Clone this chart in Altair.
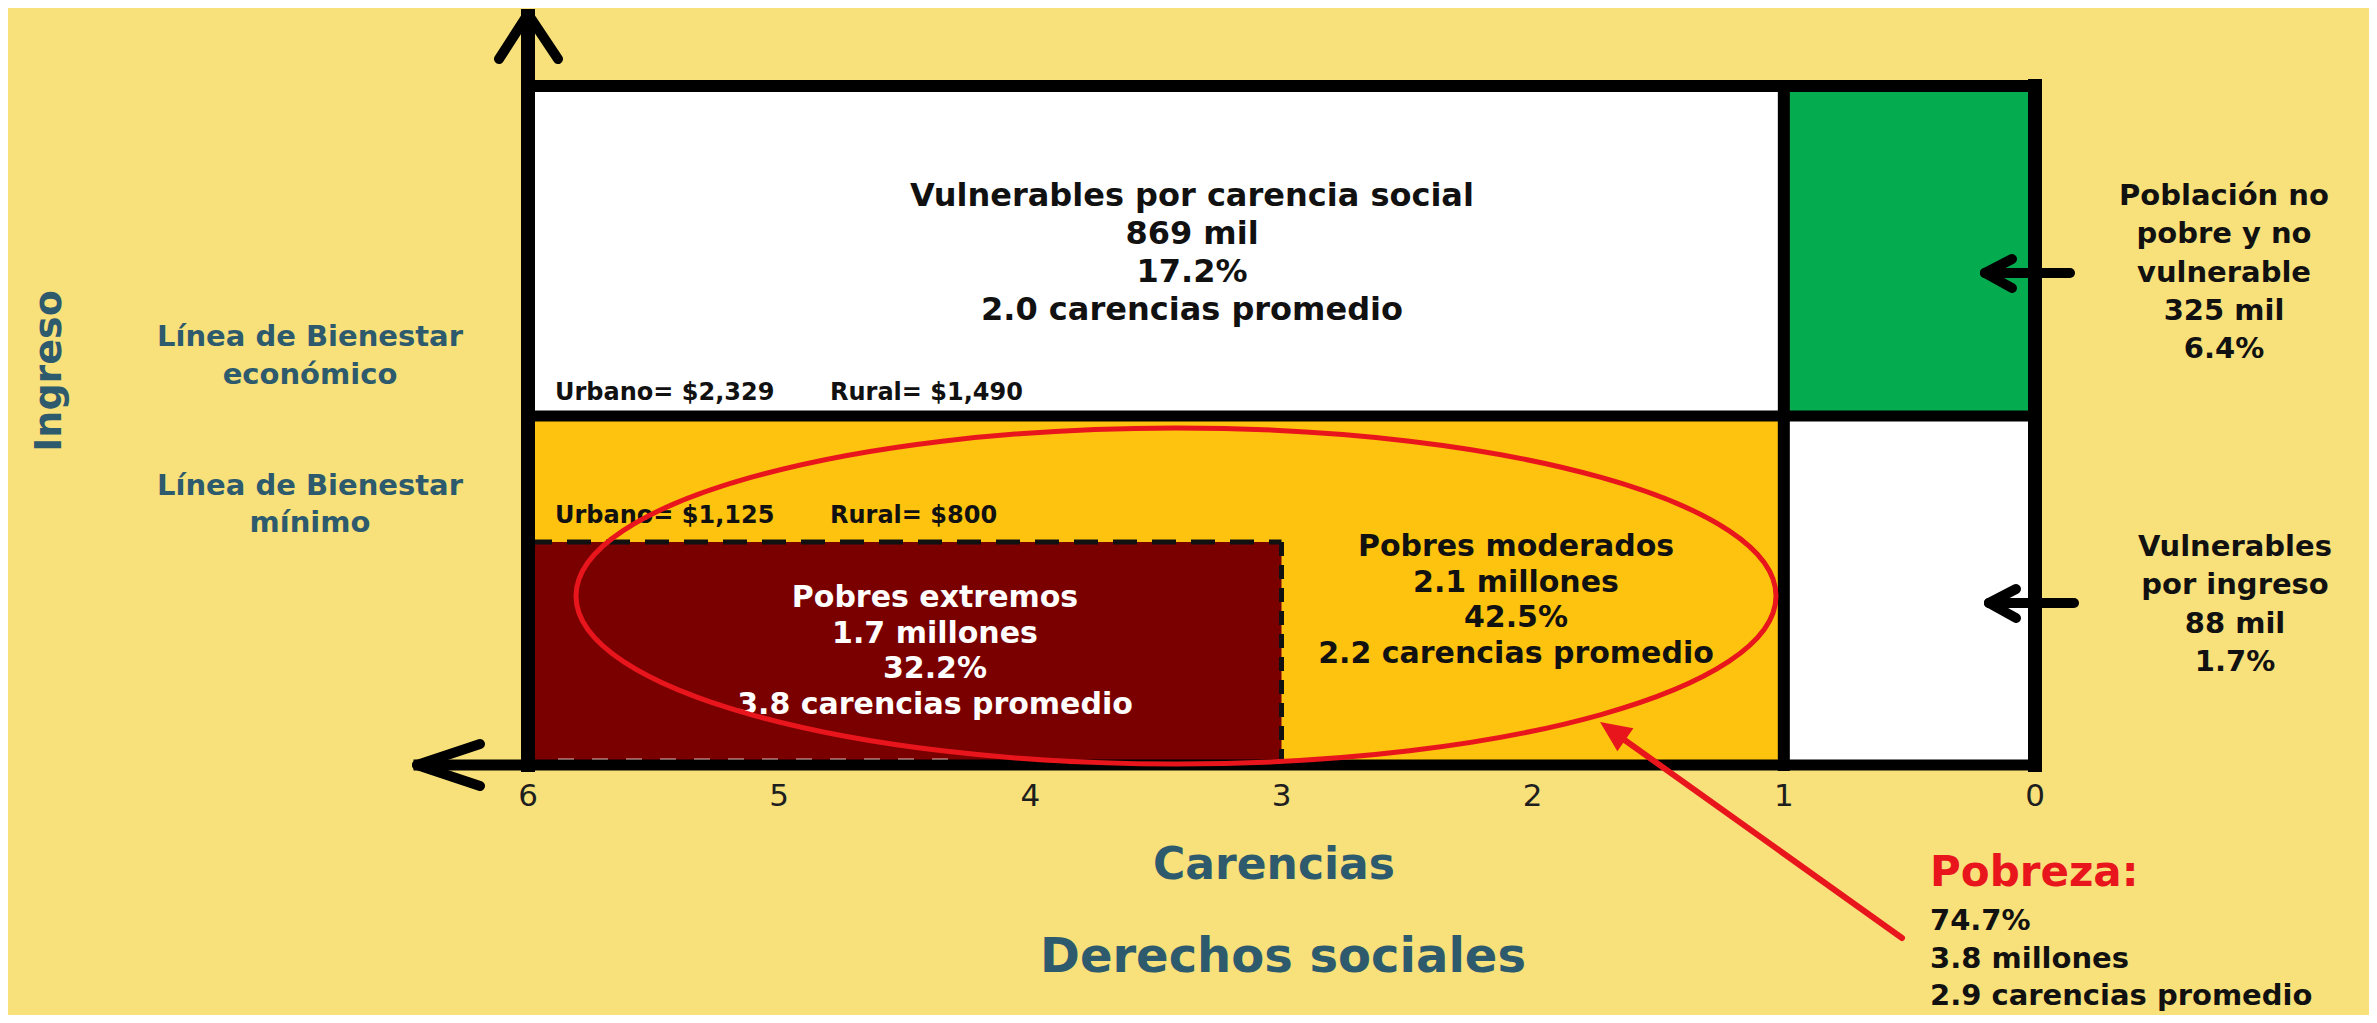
import altair as alt
import pandas as pd

# ---------------- data ----------------
grupos = ["Vulnerables por carencia social", "Población no pobre y no vulnerable",
          "Pobres moderados", "Vulnerables por ingreso", "Pobres extremos"]
grupo_lineas = [["Vulnerables por carencia social"],
                ["Población no", "pobre y no", "vulnerable"],
                ["Pobres moderados"],
                ["Vulnerables", "por ingreso"],
                ["Pobres extremos"]]
poblacion = ["869 mil", "325 mil", "2.1 millones", "88 mil", "1.7 millones"]
porcentaje = [17.2, 6.4, 42.5, 1.7, 32.2]
carencias_promedio = [2.0, None, 2.2, None, 3.8]
carencias_desde = [1, 0, 1, 0, 3]
carencias_hasta = [6, 1, 6, 1, 6]
franja_ingreso = ["alta", "alta", "baja", "baja", "minima"]
colores = ["#FFFFFF", "#05AC4F", "#FDC30F", "#FFFFFF", "#7A0000"]

ticks_carencias = [6, 5, 4, 3, 2, 1, 0]
lineas_etiqueta = [["Línea de Bienestar", "económico"], ["Línea de Bienestar", "mínimo"]]
urbano = ["$2,329", "$1,125"]
rural = ["$1,490", "$800"]

pobreza_pct = 74.7
pobreza_pob = "3.8 millones"
pobreza_car = 2.9

# ---------------- layout ----------------
PX6, PX0 = 528.0, 2035.0        # page x of carencias 6 and 0
UNIT = (PX0 - PX6) / 6.0
BOTTOM, TOP = 765.0, 86.0        # page y of the income axis bottom / top of box
W = PX0 - PX6
H = BOTTOM - TOP
PAD_L = PX6 - 8
PAD_T = TOP - 8
TOTAL_W, TOTAL_H = 2361, 1007
PAD_R = TOTAL_W - PAD_L - W
PAD_B = TOTAL_H - PAD_T - H


def X(px):
    return 6 - (px - PX6) / UNIT


def Y(py):
    return BOTTOM - py


Y_ECON = Y(416)
Y_MIN = Y(542)
franja_y = {"alta": (Y_ECON, H), "baja": (0, Y_ECON), "minima": (0, Y_MIN)}

BG = "#F8E07A"
TEAL = "#2D5A6D"
RED = "#E8161C"
FONT = "DejaVu Sans"

xs = alt.Scale(domain=[6, 0], nice=False, zero=False)
ys = alt.Scale(domain=[0, H], nice=False, zero=False)

# ---------------- cells ----------------
cells = pd.DataFrame({
    "grupo": grupos,
    "x1": carencias_hasta,
    "x2": carencias_desde,
    "y1": [franja_y[f][0] for f in franja_ingreso],
    "y2": [franja_y[f][1] for f in franja_ingreso],
    "color": colores,
})
rect = alt.Chart(cells).mark_rect().encode(
    x=alt.X("x1:Q", scale=xs, axis=None),
    x2="x2:Q",
    y=alt.Y("y1:Q", scale=ys, axis=None),
    y2="y2:Q",
    color=alt.Color("color:N", scale=None),
)


def seg_layer(df, **kw):
    return alt.Chart(df).mark_rule(**kw).encode(
        x=alt.X("x1:Q", scale=xs, axis=None), x2="x2:Q",
        y=alt.Y("y1:Q", scale=ys, axis=None), y2="y2:Q")


# dashed border of extreme poverty cell
dash_h = pd.DataFrame({"x1": [6], "x2": [3], "y1": [Y_MIN], "y2": [Y_MIN]})
dash_v = pd.DataFrame({"x1": [3], "x2": [3], "y1": [Y_MIN], "y2": [0]})
dash_b = pd.DataFrame({"x1": [X(558)], "x2": [X(965)], "y1": [Y(760)], "y2": [Y(760)]})
dashes = (seg_layer(dash_h, color="#111111", strokeWidth=5, strokeDash=[24, 15])
          + seg_layer(dash_v, color="#111111", strokeWidth=5, strokeDash=[14, 9]))
dash_bottom = seg_layer(dash_b, color="#E9B9B4", strokeWidth=3, strokeDash=[16, 18])

# ---------------- black frame and axes ----------------
box = pd.DataFrame([
    {"x1": 6, "y1": H, "x2": 0, "y2": H, "w": 12},
    {"x1": 0, "y1": 0, "x2": 0, "y2": H, "w": 14},
    {"x1": 1, "y1": 0, "x2": 1, "y2": H, "w": 12},
    {"x1": 6, "y1": Y_ECON, "x2": 0, "y2": Y_ECON, "w": 11},
    {"x1": X(419), "y1": 0, "x2": 0, "y2": 0, "w": 11},
    {"x1": 6, "y1": 0, "x2": 6, "y2": Y(16), "w": 14},
])
box_layer = alt.Chart(box).mark_rule(color="#000000", strokeCap="square").encode(
    x=alt.X("x1:Q", scale=xs, axis=None), x2="x2:Q",
    y=alt.Y("y1:Q", scale=ys, axis=None), y2="y2:Q",
    strokeWidth=alt.StrokeWidth("w:Q", scale=None))

arrows = pd.DataFrame([
    # vertical axis head
    {"x1": 6, "y1": Y(14), "x2": X(499), "y2": Y(59)},
    {"x1": 6, "y1": Y(14), "x2": X(558), "y2": Y(59)},
    # horizontal axis head
    {"x1": X(417), "y1": 0, "x2": X(480), "y2": Y(744)},
    {"x1": X(417), "y1": 0, "x2": X(480), "y2": Y(786)},
    # arrow to 'no pobre y no vulnerable'
    {"x1": X(2070), "y1": Y(273), "x2": X(1985), "y2": Y(273)},
    {"x1": X(1985), "y1": Y(273), "x2": X(2012), "y2": Y(259)},
    {"x1": X(1985), "y1": Y(273), "x2": X(2012), "y2": Y(288)},
    # arrow to 'vulnerables por ingreso'
    {"x1": X(2074), "y1": Y(603), "x2": X(1989), "y2": Y(603)},
    {"x1": X(1989), "y1": Y(603), "x2": X(2016), "y2": Y(589)},
    {"x1": X(1989), "y1": Y(603), "x2": X(2016), "y2": Y(618)},
])
arrow_layer = seg_layer(arrows, color="#000000", strokeWidth=10, strokeCap="round")

# ---------------- poverty ellipse and red pointer ----------------
k = 0.5523
r = 0.28
ellipse_path = (f"M -1 0 C -1 {-r*k:.4f} {-k:.4f} {-r} 0 {-r} "
                f"C {k:.4f} {-r} 1 {-r*k:.4f} 1 0 "
                f"C 1 {r*k:.4f} {k:.4f} {r} 0 {r} "
                f"C {-k:.4f} {r} -1 {r*k:.4f} -1 0 Z")
ell = pd.DataFrame({"x": [X(1176)], "y": [Y(596)]})
ellipse = alt.Chart(ell).mark_point(
    shape=ellipse_path, filled=False, color=RED, strokeWidth=5, opacity=1,
    size=1200 ** 2).encode(
    x=alt.X("x:Q", scale=xs, axis=None), y=alt.Y("y:Q", scale=ys, axis=None))

pointer = pd.DataFrame({"x1": [X(1902)], "y1": [Y(938)], "x2": [X(1612)], "y2": [Y(731)]})
pointer_line = seg_layer(pointer, color=RED, strokeWidth=6, strokeCap="round")
tip = pd.DataFrame({"x": [X(1600)], "y": [Y(722)]})
pointer_tip = alt.Chart(tip).mark_point(
    shape="M 0 0 L 0.45 1 L -0.45 1 Z", filled=True, color=RED, opacity=1,
    size=62 ** 2, angle=305).encode(
    x=alt.X("x:Q", scale=xs, axis=None), y=alt.Y("y:Q", scale=ys, axis=None))

# ---------------- texts ----------------
centered = []


def block(lines, cx, cy, step, size, color):
    for i, t in enumerate(lines):
        centered.append({"t": t, "x": X(cx), "y": Y(cy + i * step), "size": size, "color": color})


def info(i):
    lines = list(grupo_lineas[i]) + [poblacion[i], f"{porcentaje[i]:.1f}%"]
    if carencias_promedio[i] is not None:
        lines.append(f"{carencias_promedio[i]:.1f} carencias promedio")
    return lines


block(info(0), 1192, 196, 38, 32, "#111111")
block(info(1), 2224, 196, 38.3, 29, "#111111")
block(info(2), 1516, 547, 35.5, 30, "#111111")
block(info(3), 2235, 547, 38.3, 29, "#111111")
block(info(4), 935, 598, 35.7, 30, "#FFFFFF")
block(lineas_etiqueta[0], 310, 337, 38, 29, TEAL)
block(lineas_etiqueta[1], 310, 486, 37, 29, TEAL)
block(["Carencias"], 1274, 866, 0, 44, TEAL)
block(["Derechos sociales"], 1283, 958, 0, 48, TEAL)

left = [
    {"t": f"Urbano= {urbano[0]}", "x": X(555), "y": Y(393), "size": 24, "color": "#111111"},
    {"t": f"Rural= {rural[0]}", "x": X(830), "y": Y(393), "size": 24, "color": "#111111"},
    {"t": f"Urbano= {urbano[1]}", "x": X(555), "y": Y(516), "size": 24, "color": "#111111"},
    {"t": f"Rural= {rural[1]}", "x": X(830), "y": Y(516), "size": 24, "color": "#111111"},
    {"t": "Pobreza:", "x": X(1930), "y": Y(873), "size": 42, "color": RED},
    {"t": f"{pobreza_pct:.1f}%", "x": X(1930), "y": Y(921), "size": 29, "color": "#111111"},
    {"t": pobreza_pob, "x": X(1930), "y": Y(959), "size": 29, "color": "#111111"},
    {"t": f"{pobreza_car:.1f} carencias promedio", "x": X(1930), "y": Y(996), "size": 29,
     "color": "#111111"},
]


def text_layer(rows, weight="bold", **kw):
    return alt.Chart(pd.DataFrame(rows)).mark_text(font=FONT, fontWeight=weight, **kw).encode(
        x=alt.X("x:Q", scale=xs, axis=None), y=alt.Y("y:Q", scale=ys, axis=None),
        text="t:N", size=alt.Size("size:Q", scale=None), color=alt.Color("color:N", scale=None))


tick_rows = [{"t": str(v), "x": v, "y": Y(797), "size": 31, "color": "#1E1E1E"}
             for v in ticks_carencias]

t_center = text_layer(centered, align="center", baseline="middle")
t_left = text_layer(left, align="left", baseline="middle")
t_ticks = text_layer(tick_rows, weight="normal", align="center", baseline="middle")
t_ingreso = text_layer([{"t": "Ingreso", "x": X(50), "y": Y(371), "size": 38, "color": TEAL}],
                       align="center", baseline="middle", angle=270)

chart = alt.layer(
    rect, dash_bottom, dashes, box_layer, arrow_layer,
    t_center, t_left, t_ticks, t_ingreso, ellipse, pointer_line, pointer_tip,
).properties(
    width=W, height=H,
    padding={"left": PAD_L, "top": PAD_T, "right": PAD_R, "bottom": PAD_B},
    autosize=alt.AutoSizeParams(type="none"),
    background=BG,
).configure_view(stroke=None)

chart.save("out.html", embed_options={"renderer": "svg", "actions": False})
